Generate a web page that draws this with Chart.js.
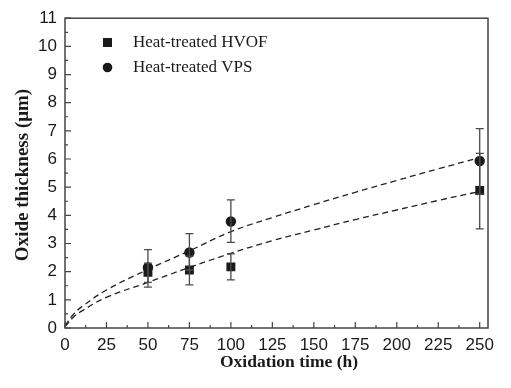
<!DOCTYPE html>
<html><head><meta charset="utf-8">
<script src="https://cdn.jsdelivr.net/npm/chart.js@4"></script>
<style>html,body{margin:0;padding:0;background:#fff}#c{display:block}</style>
</head><body>
<canvas id="c" width="511" height="388"></canvas>
<script>
// ---- data ----
const xTicks = [0,25,50,75,100,125,150,175,200,225,250];
const yTicks = [0,1,2,3,4,5,6,7,8,9,10,11];
const times = [50, 75, 100, 250];
const hvof = [1.98, 2.06, 2.17, 4.88];
const hvofLow = [1.62, 1.53, 1.71, 3.52];
const hvofHigh = [2.30, 2.55, 2.63, 6.20];
const vps = [2.15, 2.68, 3.78, 5.93];
const vpsLow = [1.45, 2.05, 3.04, 4.75];
const vpsHigh = [2.78, 3.35, 4.55, 7.08];
const fitTimes = [0, 5, 10, 25, 50, 75, 100, 125, 150, 175, 200, 225, 250];
const fitHvof = [0.05, 0.38, 0.60, 1.09, 1.62, 2.15, 2.65, 3.10, 3.48, 3.85, 4.19, 4.53, 4.85];
const fitVps = [0.08, 0.48, 0.75, 1.35, 2.08, 2.74, 3.42, 3.92, 4.38, 4.82, 5.24, 5.65, 6.05];
const legendLabels = ['Heat-treated HVOF', 'Heat-treated VPS'];
const xTitle = 'Oxidation time (h)';
const yTitle = 'Oxide thickness (μm)';

const pts = (xs, ys) => xs.map((x, i) => ({x, y: ys[i]}));
const ink = '#1a1a1a';
const frame = '#444';

const decor = {
  id: 'decor',
  afterDatasetsDraw(chart) {
    const {ctx, scales: {x, y}} = chart;
    ctx.save();
    ctx.strokeStyle = '#4a4a4a'; ctx.lineWidth = 1.3;
    const bars = (lo, hi) => times.forEach((t, i) => {
      const px = x.getPixelForValue(t);
      const p1 = y.getPixelForValue(lo[i]), p2 = y.getPixelForValue(hi[i]);
      ctx.beginPath();
      ctx.moveTo(px, p1); ctx.lineTo(px, p2);
      ctx.moveTo(px - 4, p1); ctx.lineTo(px + 4, p1);
      ctx.moveTo(px - 4, p2); ctx.lineTo(px + 4, p2);
      ctx.stroke();
    });
    bars(hvofLow, hvofHigh); bars(vpsLow, vpsHigh);
    ctx.restore();
  },
  afterDraw(chart) {
    const {ctx, chartArea: a, scales: {x, y}} = chart;
    ctx.save();
    ctx.strokeStyle = frame; ctx.lineWidth = 1.5;
    ctx.strokeRect(a.left, a.top, a.right - a.left, a.bottom - a.top);
    ctx.lineWidth = 1.2;
    ctx.beginPath();
    xTicks.forEach(v => { const p = x.getPixelForValue(v); ctx.moveTo(p, a.bottom); ctx.lineTo(p, a.bottom - 6); });
    xTicks.slice(0, -1).forEach(v => { const p = x.getPixelForValue(v + 12.5); ctx.moveTo(p, a.bottom); ctx.lineTo(p, a.bottom - 3); });
    yTicks.forEach(v => { const p = y.getPixelForValue(v); ctx.moveTo(a.left, p); ctx.lineTo(a.left + 6, p); });
    yTicks.slice(0, -1).forEach(v => { const p = y.getPixelForValue(v + 0.5); ctx.moveTo(a.left, p); ctx.lineTo(a.left + 3, p); });
    ctx.stroke();
    // legend
    ctx.fillStyle = ink;
    ctx.fillRect(103, 38, 9, 9);
    ctx.beginPath(); ctx.arc(107.5, 67.5, 4.8, 0, Math.PI * 2); ctx.fill();
    ctx.font = '17px "Liberation Serif", serif';
    ctx.textBaseline = 'middle'; ctx.textAlign = 'left';
    ctx.fillText(legendLabels[0], 133, 43);
    ctx.fillText(legendLabels[1], 133, 68);
    // axis titles
    ctx.font = 'bold 17.5px "Liberation Serif", serif';
    ctx.textAlign = 'center';
    ctx.fillText(xTitle, 289, 362);
    ctx.translate(23, 175);
    ctx.rotate(-Math.PI / 2);
    ctx.font = 'bold 19px "Liberation Serif", serif';
    ctx.fillText(yTitle, 0, 0);
    ctx.restore();
  }
};

new Chart(document.getElementById('c'), {
  type: 'scatter',
  data: {
    datasets: [
      {label: legendLabels[0], data: pts(times, hvof), pointStyle: 'rect', pointRadius: 6.3, pointHoverRadius: 6.3, backgroundColor: ink, borderColor: ink, borderWidth: 0},
      {label: legendLabels[1], data: pts(times, vps), pointStyle: 'circle', pointRadius: 5.2, pointHoverRadius: 5.2, backgroundColor: ink, borderColor: ink, borderWidth: 0},
      {label: 'fit HVOF', data: pts(fitTimes, fitHvof), showLine: true, pointRadius: 0, borderColor: '#222', borderWidth: 1.3, borderDash: [6, 4], tension: 0.4, fill: false},
      {label: 'fit VPS', data: pts(fitTimes, fitVps), showLine: true, pointRadius: 0, borderColor: '#222', borderWidth: 1.3, borderDash: [6, 4], tension: 0.4, fill: false}
    ]
  },
  options: {
    responsive: false, animation: false,
    layout: {padding: {top: 16, right: 23, left: 0, bottom: 0}},
    plugins: {legend: {display: false}, tooltip: {enabled: false}},
    scales: {
      x: {
        type: 'linear', min: 0, max: 255,
        afterBuildTicks: s => { s.ticks = xTicks.map(v => ({value: v})); },
        afterFit: s => { s.height = 60; },
        grid: {display: false, drawTicks: false},
        border: {display: false},
        ticks: {color: ink, padding: 7, maxRotation: 0, autoSkip: false, font: {family: '"Liberation Sans", Arial, sans-serif', size: 17}}
      },
      y: {
        type: 'linear', min: 0, max: 11,
        afterBuildTicks: s => { s.ticks = yTicks.map(v => ({value: v})); },
        afterFit: s => { s.width = 65; },
        grid: {display: false, drawTicks: false},
        border: {display: false},
        ticks: {color: ink, padding: 8, autoSkip: false, font: {family: '"Liberation Sans", Arial, sans-serif', size: 17}}
      }
    }
  },
  plugins: [decor]
});
</script>
</body></html>
